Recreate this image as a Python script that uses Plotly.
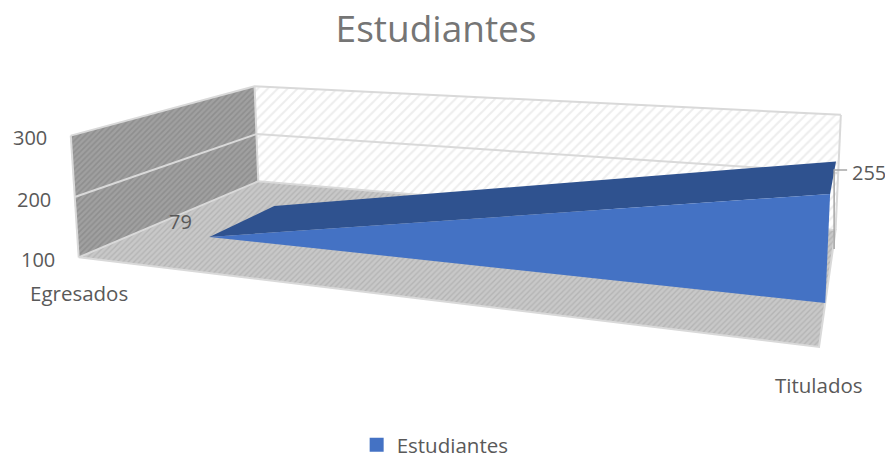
import numpy as np
import plotly.graph_objects as go

categories = ["Egresados", "Titulados"]
values = [79, 255]
series_name = "Estudiantes"
title_text = "Estudiantes"
z_ticks = [100, 200, 300]
ZMIN, ZMAX = 100, 300

W, H = 885, 461
# Camera of the 3-D chart: world (category, depth, value) -> canvas
EYE = np.array([0.450, -1.226, 0.313])
CEN = np.array([-0.212, 0.460, 0.026])
UP = np.array([-0.003, 0.039, 1.0])
BOX = np.array([0.833, 0.412, 0.147])
FOCAL, PY = 1105.033, 98.377
Y_FRONT, Y_BACK = 0.305, 0.698

fw = (CEN - EYE) / np.linalg.norm(CEN - EYE)
rt = np.cross(fw, UP); rt /= np.linalg.norm(rt)
uv = np.cross(rt, fw)

def project(cat, depth, val):
    w = np.array([cat - .5, depth - .5, (val - ZMIN) / (ZMAX - ZMIN) - .5]) * BOX - EYE
    d = w @ fw
    return W / 2 + FOCAL * (w @ rt) / d, PY - FOCAL * (w @ uv) / d

fig = go.Figure()

def poly(points, pattern=None, color=None):
    xy = [project(*p) for p in points]
    xs = [q[0] for q in xy] + [xy[0][0]]
    ys = [q[1] for q in xy] + [xy[0][1]]
    kw = dict(fillpattern=pattern) if pattern else dict(fillcolor=color)
    fig.add_trace(go.Scatter(x=xs, y=ys, mode="lines", fill="toself", line=dict(width=0),
                             hoverinfo="skip", showlegend=False, **kw))

def polyline(points, color="#d9d9d9", width=2):
    xy = [project(*p) for p in points]
    fig.add_trace(go.Scatter(x=[q[0] for q in xy], y=[q[1] for q in xy], mode="lines",
                             line=dict(color=color, width=width), hoverinfo="skip", showlegend=False))

# Walls and floor
poly([(0, 1, ZMIN), (1, 1, ZMIN), (1, 1, ZMAX), (0, 1, ZMAX)],
     pattern=dict(shape="/", bgcolor="#ffffff", fgcolor="#dcdcdc", size=7, solidity=0.28))
poly([(0, 0, ZMIN), (0, 1, ZMIN), (0, 1, ZMAX), (0, 0, ZMAX)],
     pattern=dict(shape="/", bgcolor="#a0a0a0", fgcolor="#7c7c7c", size=4, solidity=0.4))
poly([(0, 0, ZMIN), (1, 0, ZMIN), (1, 1, ZMIN), (0, 1, ZMIN)],
     pattern=dict(shape="/", bgcolor="#c8c8c8", fgcolor="#a0a0a0", size=4, solidity=0.35))

# Gridlines and frame
for t in z_ticks[1:]:
    polyline([(0, 0, t), (0, 1, t), (1, 1, t)])
polyline([(0, 0, ZMIN), (0, 0, ZMAX)])
polyline([(0, 1, ZMIN), (0, 1, ZMAX)])
polyline([(1, 1, ZMIN), (1, 1, ZMAX)])
polyline([(0, 0, ZMIN), (1, 0, ZMIN), (1, 1, ZMIN), (0, 1, ZMIN), (0, 0, ZMIN)])

# Area series, clipped at the axis floor
xc = (ZMIN - values[0]) / (values[1] - values[0])
poly([(xc, Y_FRONT, ZMIN), (1, Y_FRONT, values[1]), (1, Y_BACK, values[1]), (xc, Y_BACK, ZMIN)], color="#2F528F")
poly([(xc, Y_FRONT, ZMIN), (1, Y_FRONT, ZMIN), (1, Y_FRONT, values[1])], color="#4472C4")

# Leader of the last data label
ax_, ay_ = project(1, Y_FRONT, values[1])
fig.add_trace(go.Scatter(x=[ax_ + 4, ax_ + 4, ax_ + 17], y=[ay_ + 55, ay_ - 24, ay_ - 24], mode="lines",
                         line=dict(color="#a6a6a6", width=1.5), hoverinfo="skip", showlegend=False))

# Legend entry
fig.add_trace(go.Scatter(x=[None], y=[None], mode="markers", name=series_name,
                         marker=dict(symbol="square", size=14, color="#4472C4")))

FONT = "Open Sans"
TXT = "#595959"
def label(cat, depth, val, text, dx, dy, anchor="center", size=20.5, color=TXT):
    x, y = project(cat, depth, val)
    return dict(x=x, y=y, xref="x", yref="y", text=text, showarrow=False, xanchor=anchor, yanchor="middle",
                xshift=dx, yshift=-dy, font=dict(family=FONT, size=size, color=color))

ann = [label(0, 0, t, str(t), -22, 2, "right", size=20) for t in z_ticks]
ann += [label(0, 0, ZMIN, categories[0], 0, 36), label(1, 0, ZMIN, categories[1], 0, 38)]
ann += [label(xc, Y_FRONT, ZMIN, str(values[0]), -29, -15, size=20),
        label(1, Y_FRONT, values[1], str(values[1]), 39, -22, size=20)]

fig.update_layout(
    width=W, height=H, margin=dict(l=0, r=0, t=0, b=0, autoexpand=False), paper_bgcolor="white", plot_bgcolor="white",
    xaxis=dict(visible=False, range=[0, W], fixedrange=True),
    yaxis=dict(visible=False, range=[H, 0], fixedrange=True),
    title=dict(text=title_text, x=0.4927, xanchor="center", y=0.937, yanchor="middle",
               font=dict(family=FONT, size=37, color="#757575")),
    legend=dict(orientation="h", x=0.403, y=0.035, xanchor="left", yanchor="middle",
                font=dict(family=FONT, size=20.5, color=TXT), bgcolor="rgba(0,0,0,0)"),
    annotations=ann,
)
fig.write_html("out.html", config=dict(displayModeBar=False),
               post_script="document.body.style.margin='0';document.documentElement.style.overflow='hidden';")
